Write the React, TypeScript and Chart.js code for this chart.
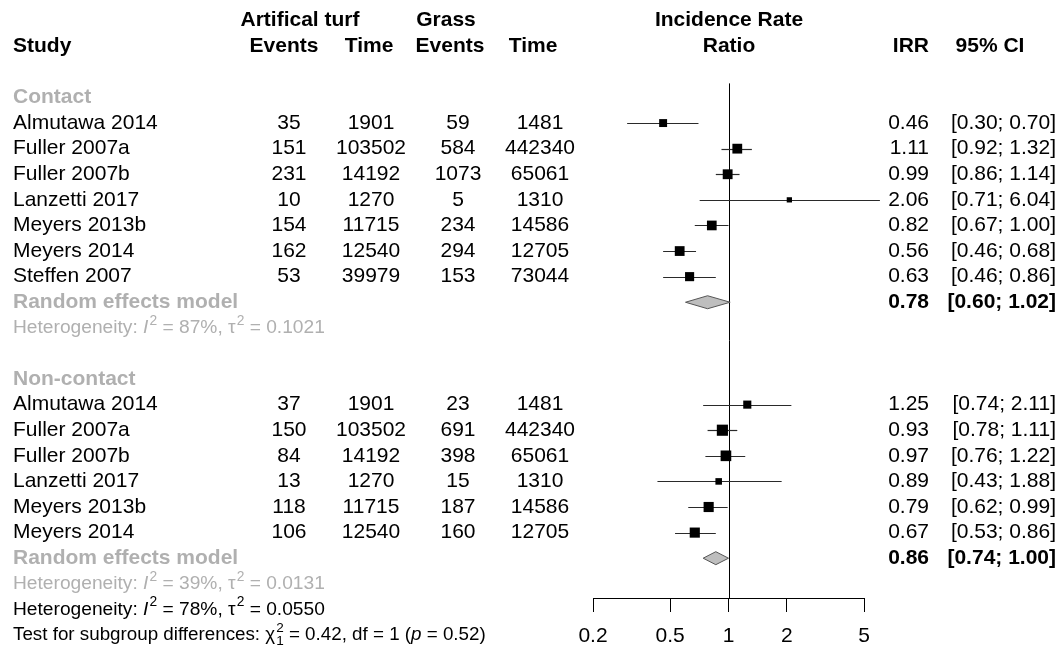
import React, { useEffect, useRef } from 'react';
import { Chart, registerables } from 'chart.js';

Chart.register(...registerables);

// ---------- data ----------
const contactStudies = ['Almutawa 2014', 'Fuller 2007a', 'Fuller 2007b', 'Lanzetti 2017', 'Meyers 2013b', 'Meyers 2014', 'Steffen 2007'];
const contactEventsTurf = [35, 151, 231, 10, 154, 162, 53];
const contactTimeTurf = [1901, 103502, 14192, 1270, 11715, 12540, 39979];
const contactEventsGrass = [59, 584, 1073, 5, 234, 294, 153];
const contactTimeGrass = [1481, 442340, 65061, 1310, 14586, 12705, 73044];
const contactIRR = [0.46, 1.11, 0.99, 2.06, 0.82, 0.56, 0.63];
const contactLower = [0.30, 0.92, 0.86, 0.71, 0.67, 0.46, 0.46];
const contactUpper = [0.70, 1.32, 1.14, 6.04, 1.00, 0.68, 0.86];
const contactWeight = [11.4, 17.4, 17.5, 5.0, 17.0, 17.3, 15.0];
const contactPooled = [0.78, 0.60, 1.02];
const contactHet = [87, 0.1021];

const nonContactStudies = ['Almutawa 2014', 'Fuller 2007a', 'Fuller 2007b', 'Lanzetti 2017', 'Meyers 2013b', 'Meyers 2014'];
const nonContactEventsTurf = [37, 150, 84, 13, 118, 106];
const nonContactTimeTurf = [1901, 103502, 14192, 1270, 11715, 12540];
const nonContactEventsGrass = [23, 691, 398, 15, 187, 160];
const nonContactTimeGrass = [1481, 442340, 65061, 1310, 14586, 12705];
const nonContactIRR = [1.25, 0.93, 0.97, 0.89, 0.79, 0.67];
const nonContactLower = [0.74, 0.78, 0.76, 0.43, 0.62, 0.53];
const nonContactUpper = [2.11, 1.11, 1.22, 1.88, 0.99, 0.86];
const nonContactWeight = [11.9, 22.5, 20.5, 7.8, 18.6, 18.6];
const nonContactPooled = [0.86, 0.74, 1.00];
const nonContactHet = [39, 0.0131];

const overallHet = [78, 0.0550];
const subgroupTest = [0.42, 1, 0.52]; // chi2, df, p

const tickValues = [0.2, 0.5, 1, 2, 5];
const tickLabels = ['0.2', '0.5', '1', '2', '5'];

// ---------- layout / style ----------
const W = 1057;
const H = 654;
const FONT = '"Liberation Sans", Arial, Helvetica, sans-serif';
const FS = 21;
const FS_HET = 19.2;
const FS_TEST = 18.8;
const GRAY = '#b0b0b0';
const COL = {
  study: 13,
  e1: 289, t1: 371, e2: 458, t2: 540,
  e1h: 284, t1h: 369, e2h: 450, t2h: 533,
  irr: 929, ci: 1056, ciHead: 990, incid: 729, turf: 300, grass: 446,
};

const nC = contactStudies.length;
const nN = nonContactStudies.length;
const ROW_CONTACT = 0;
const ROW_C_POOL = ROW_CONTACT + nC + 1;
const ROW_C_HET = ROW_C_POOL + 1;
const ROW_NC = ROW_C_HET + 2;
const ROW_N_POOL = ROW_NC + nN + 1;
const ROW_N_HET = ROW_N_POOL + 1;
const ROW_ALL_HET = ROW_N_HET + 1;
const ROW_TEST = ROW_ALL_HET + 1;

const f2 = (v: number) => v.toFixed(2);
const ciText = (lo: number, hi: number) => `[${f2(lo)}; ${f2(hi)}]`;

function fnt(size: number, bold = false, italic = false) {
  return `${italic ? 'italic ' : ''}${bold ? 'bold ' : ''}${size}px ${FONT}`;
}

type Seg = { t?: string; i?: boolean; sup?: string; sub?: string };

function drawRich(ctx: CanvasRenderingContext2D, segs: Seg[], x: number, y: number, color: string, fs: number) {
  ctx.fillStyle = color;
  ctx.textBaseline = 'middle';
  ctx.textAlign = 'left';
  let cx = x;
  for (const s of segs) {
    if (s.t) {
      ctx.font = fnt(fs, false, !!s.i);
      ctx.fillText(s.t, cx, y);
      cx += ctx.measureText(s.t).width;
    }
    let w = 0;
    if (s.sup) {
      ctx.font = fnt(fs * 0.72);
      ctx.fillText(s.sup, cx + 1, y - fs * 0.36);
      w = Math.max(w, ctx.measureText(s.sup).width + 1);
    }
    if (s.sub) {
      ctx.font = fnt(fs * 0.72);
      ctx.fillText(s.sub, cx + 1, y + fs * 0.34);
      w = Math.max(w, ctx.measureText(s.sub).width + 1);
    }
    cx += w;
  }
}

function hetSegs(h: number[]): Seg[] {
  return [
    { t: 'Heterogeneity: ' },
    { t: 'I', i: true, sup: '2' },
    { t: ` = ${h[0]}%, τ`, sup: '2' },
    { t: ` = ${h[1].toFixed(4)}` },
  ];
}

function txt(ctx: CanvasRenderingContext2D, s: string, x: number, y: number, align: CanvasTextAlign, bold = false, color = '#000') {
  ctx.font = fnt(FS, bold);
  ctx.fillStyle = color;
  ctx.textAlign = align;
  ctx.textBaseline = 'middle';
  ctx.fillText(s, x, y);
}

const boxSide = (w: number) => 2.35 * Math.sqrt(w);

const forestPlugin = {
  id: 'forestDecor',
  beforeDatasetsDraw(chart: any) {
    const ctx: CanvasRenderingContext2D = chart.ctx;
    const xs = chart.scales.x;
    const ys = chart.scales.y;
    ctx.save();
    // reference line at 1
    const x1 = Math.round(xs.getPixelForValue(1)) + 0.5;
    ctx.strokeStyle = '#000';
    ctx.lineWidth = 1;
    ctx.beginPath();
    ctx.moveTo(x1, ys.getPixelForValue(ROW_CONTACT - 0.55));
    ctx.lineTo(x1, chart.chartArea.bottom);
    ctx.stroke();
    // CI lines
    ctx.strokeStyle = '#2a2a2a';
    ctx.lineWidth = 1.2;
    const ci = (lo: number[], hi: number[], row0: number) => {
      lo.forEach((l, k) => {
        const y = Math.round(ys.getPixelForValue(row0 + 1 + k)) + 0.5;
        ctx.beginPath();
        ctx.moveTo(xs.getPixelForValue(l), y);
        ctx.lineTo(xs.getPixelForValue(hi[k]), y);
        ctx.stroke();
      });
    };
    ci(contactLower, contactUpper, ROW_CONTACT);
    ci(nonContactLower, nonContactUpper, ROW_NC);
    // diamonds
    const diamond = (p: number[], row: number) => {
      const y = ys.getPixelForValue(row);
      const h = 6.5;
      ctx.beginPath();
      ctx.moveTo(xs.getPixelForValue(p[1]), y);
      ctx.lineTo(xs.getPixelForValue(p[0]), y - h);
      ctx.lineTo(xs.getPixelForValue(p[2]), y);
      ctx.lineTo(xs.getPixelForValue(p[0]), y + h);
      ctx.closePath();
      ctx.fillStyle = '#bebebe';
      ctx.fill();
      ctx.strokeStyle = '#555';
      ctx.lineWidth = 1;
      ctx.stroke();
    };
    diamond(contactPooled, ROW_C_POOL);
    diamond(nonContactPooled, ROW_N_POOL);
    ctx.restore();
  },
  afterDraw(chart: any) {
    const ctx: CanvasRenderingContext2D = chart.ctx;
    const ys = chart.scales.y;
    const Y = (r: number) => ys.getPixelForValue(r);
    ctx.save();
    // headers
    txt(ctx, 'Artifical turf', COL.turf, Y(-3), 'center', true);
    txt(ctx, 'Grass', COL.grass, Y(-3), 'center', true);
    txt(ctx, 'Incidence Rate', COL.incid, Y(-3), 'center', true);
    txt(ctx, 'Study', COL.study, Y(-2), 'left', true);
    txt(ctx, 'Events', COL.e1h, Y(-2), 'center', true);
    txt(ctx, 'Time', COL.t1h, Y(-2), 'center', true);
    txt(ctx, 'Events', COL.e2h, Y(-2), 'center', true);
    txt(ctx, 'Time', COL.t2h, Y(-2), 'center', true);
    txt(ctx, 'Ratio', COL.incid, Y(-2), 'center', true);
    txt(ctx, 'IRR', COL.irr, Y(-2), 'right', true);
    txt(ctx, '95% CI', COL.ciHead, Y(-2), 'center', true);

    const block = (
      title: string, row0: number, studies: string[], e1: number[], t1: number[], e2: number[], t2: number[],
      irr: number[], lo: number[], hi: number[], pooled: number[], het: number[]
    ) => {
      txt(ctx, title, COL.study, Y(row0), 'left', true, GRAY);
      studies.forEach((s, k) => {
        const y = Y(row0 + 1 + k);
        txt(ctx, s, COL.study, y, 'left');
        txt(ctx, String(e1[k]), COL.e1, y, 'center');
        txt(ctx, String(t1[k]), COL.t1, y, 'center');
        txt(ctx, String(e2[k]), COL.e2, y, 'center');
        txt(ctx, String(t2[k]), COL.t2, y, 'center');
        txt(ctx, f2(irr[k]), COL.irr, y, 'right');
        txt(ctx, ciText(lo[k], hi[k]), COL.ci, y, 'right');
      });
      const py = Y(row0 + studies.length + 1);
      txt(ctx, 'Random effects model', COL.study, py, 'left', true, GRAY);
      txt(ctx, f2(pooled[0]), COL.irr, py, 'right', true);
      txt(ctx, ciText(pooled[1], pooled[2]), COL.ci, py, 'right', true);
      drawRich(ctx, hetSegs(het), COL.study, Y(row0 + studies.length + 2), GRAY, FS_HET);
    };
    block('Contact', ROW_CONTACT, contactStudies, contactEventsTurf, contactTimeTurf, contactEventsGrass, contactTimeGrass,
      contactIRR, contactLower, contactUpper, contactPooled, contactHet);
    block('Non-contact', ROW_NC, nonContactStudies, nonContactEventsTurf, nonContactTimeTurf, nonContactEventsGrass, nonContactTimeGrass,
      nonContactIRR, nonContactLower, nonContactUpper, nonContactPooled, nonContactHet);

    drawRich(ctx, hetSegs(overallHet), COL.study, Y(ROW_ALL_HET), '#000', FS_HET);
    drawRich(ctx, [
      { t: 'Test for subgroup differences: χ', sup: '2', sub: String(subgroupTest[1]) },
      { t: ` = ${subgroupTest[0].toFixed(2)}, df = ${subgroupTest[1]} (` },
      { t: 'p', i: true },
      { t: ` = ${subgroupTest[2].toFixed(2)})` },
    ], COL.study, Y(ROW_TEST), '#000', FS_TEST);
    ctx.restore();
  },
};

export default function App() {
  const ref = useRef<HTMLCanvasElement | null>(null);
  useEffect(() => {
    if (!ref.current) return;
    const points = [
      ...contactIRR.map((v, k) => ({ x: v, y: ROW_CONTACT + 1 + k })),
      ...nonContactIRR.map((v, k) => ({ x: v, y: ROW_NC + 1 + k })),
    ];
    const radii = [...contactWeight, ...nonContactWeight].map((w) => boxSide(w) / Math.SQRT2);
    const chart = new Chart(ref.current, {
      type: 'scatter',
      data: {
        datasets: [
          {
            data: points,
            pointStyle: 'rect',
            pointRadius: radii,
            pointHoverRadius: radii,
            backgroundColor: '#000',
            borderColor: '#000',
            borderWidth: 0,
            clip: false,
          } as any,
        ],
      },
      options: {
        animation: false,
        responsive: false,
        maintainAspectRatio: false,
        events: [],
        layout: { padding: { left: 593, right: W - 864, top: 7.33, bottom: 0 } },
        plugins: { legend: { display: false }, tooltip: { enabled: false } },
        scales: {
          x: {
            type: 'logarithmic',
            position: 'bottom',
            min: 0.2,
            max: 5,
            afterBuildTicks: (scale: any) => {
              scale.ticks = tickValues.map((v) => ({ value: v }));
            },
            afterFit: (scale: any) => {
              scale.height = 56;
            },
            grid: { drawOnChartArea: false, drawTicks: true, tickLength: 14, color: '#000', lineWidth: 1 },
            border: { display: true, color: '#000', width: 1 },
            ticks: {
              autoSkip: false,
              maxRotation: 0,
              minRotation: 0,
              padding: 12,
              color: '#000',
              font: { family: FONT, size: FS },
              callback: (_v: any, i: number) => tickLabels[i],
            },
          },
          y: {
            type: 'linear',
            display: false,
            reverse: true,
            min: -3.5,
            max: 19.555,
          },
        },
      },
      plugins: [forestPlugin],
    });
    return () => chart.destroy();
  }, []);
  return (
    <div style={{ position: 'fixed', left: 0, top: 0, width: W, height: H, background: '#fff' }}>
      <canvas ref={ref} width={W} height={H} style={{ display: 'block', width: W, height: H }} />
    </div>
  );
}
